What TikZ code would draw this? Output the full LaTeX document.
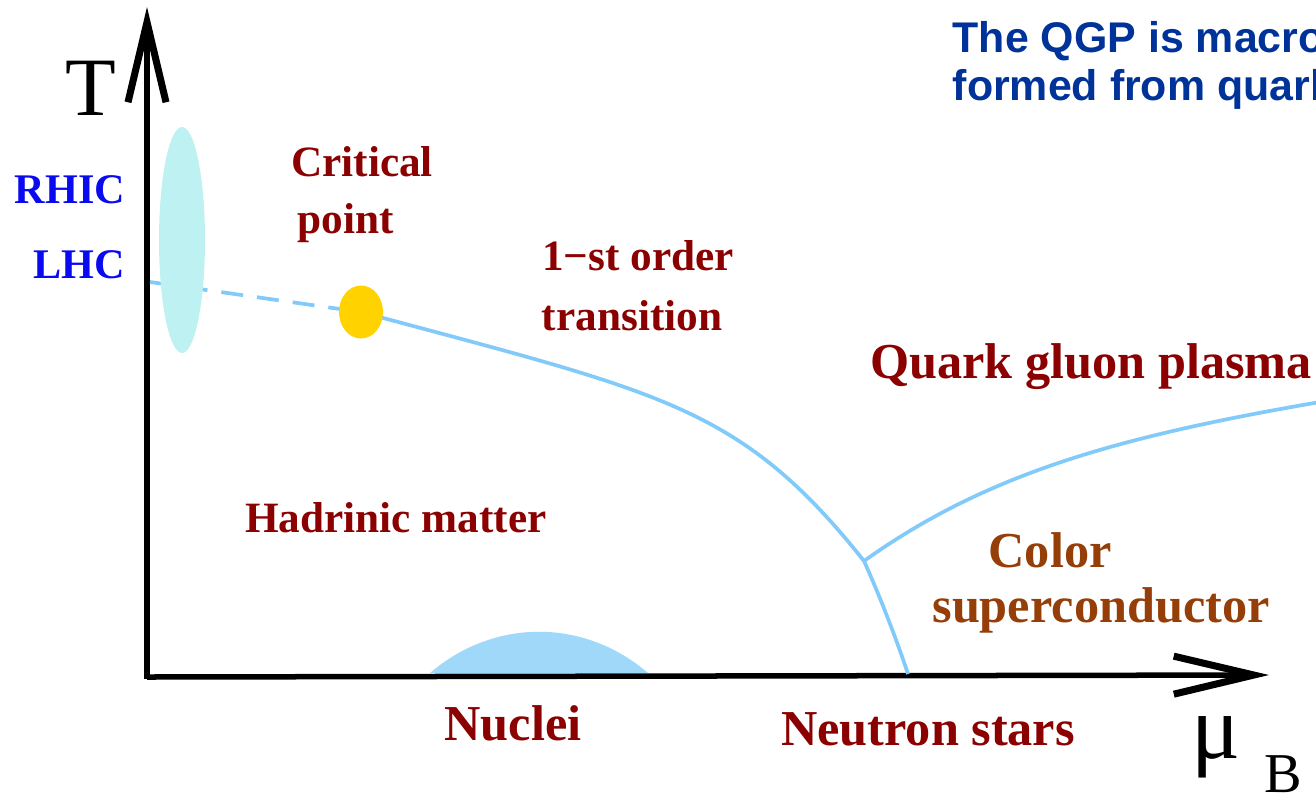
\documentclass[tikz,border=0pt]{standalone}
\usepackage{fontspec}
\setmainfont{Liberation Serif}
\newfontfamily\headfont{Liberation Sans}
\usetikzlibrary{arrows.meta}

\definecolor{phaseRed}{RGB}{139,0,0}
\definecolor{csBrown}{RGB}{150,62,8}
\definecolor{accBlue}{RGB}{10,10,240}
\definecolor{headBlue}{RGB}{0,51,153}
\definecolor{lineBlue}{RGB}{130,202,250}
\definecolor{accCyan}{RGB}{190,242,242}
\definecolor{critYellow}{RGB}{255,210,0}
\definecolor{nucBlue}{RGB}{160,216,250}

\begin{document}
\begin{tikzpicture}[x=0.01cm, y=-0.01cm,
  lbl/.style={font=\bfseries\fontsize{12.3}{14}\selectfont, text=phaseRed, anchor=base, inner sep=0pt},
  biglbl/.style={lbl, font=\bfseries\fontsize{14.3}{16}\selectfont},
  acclbl/.style={lbl, text=accBlue, font=\bfseries\fontsize{12}{14}\selectfont},
  headline/.style={font=\headfont\bfseries\fontsize{12.2}{14}\selectfont, text=headBlue, anchor=base west, inner sep=0pt},
  phaseline/.style={lineBlue, line width=0.037cm},
  axis/.style={line width=0.055cm, -{Straight Barb[length=0.8cm, width=0.38cm, line width=2pt]}}]
  \useasboundingbox (0,0) rectangle (1316,800);
  \clip (0,0) rectangle (1316,800);

  % 坐标轴
  \coordinate (O) at (147,677);
  \coordinate (Tend) at (147,7);
  \coordinate (Mend) at (1269,675);
  \fill[nucBlue] (430,673) .. controls (494,618) and (584,618) .. (648,673) -- cycle;
  \draw[axis] (147,679) -- (Tend);
  \draw[axis] (O) -- (Mend);
  \node[anchor=base, inner sep=0pt, font=\fontsize{23.6}{26}\selectfont] (T) at (91,115) {T};
  \node[anchor=base, inner sep=0pt, font=\fontsize{26}{28}\selectfont] (mu) at (1216,758) {μ};
  \node[anchor=base, inner sep=0pt, font=\fontsize{16}{18}\selectfont] (B) at (1283,792) {B};

  % 相变线
  \coordinate (crit) at (361,312);
  \coordinate (triple) at (864,561);
  \draw[phaseline, dash pattern=on 0.22cm off 0.14cm] (150,282) -- (crit);
  \fill[accCyan] (182,240) ellipse [x radius=23, y radius=113];
  \draw[phaseline] (crit) .. controls (661,393) and (740,405) .. (triple);
  \draw[phaseline] (triple) .. controls (878,592) and (895,635) .. (908,674);
  \draw[phaseline] (triple) .. controls (986,474) and (1116,437) .. (1320,402);
  \fill[critYellow] (crit) ellipse [x radius=22, y radius=26.5];

  % 标注
  \node[acclbl] (rhic) at (70,203) {RHIC};
  \node[acclbl] (lhc) at (79,278) {LHC};
  \node[lbl] (critA) at (362,176) {Critical};
  \node[lbl] (critB) at (346,233) {point};
  \node[lbl] (firstA) at (638,270) {1−st order};
  \node[lbl] (firstB) at (632,330) {transition};
  \node[biglbl] (qgp) at (1091,378) {Quark gluon plasma};
  \node[lbl] (had) at (396,532) {Hadrinic matter};
  \node[biglbl, text=csBrown] (colA) at (1050,567) {Color};
  \node[biglbl, text=csBrown] (colB) at (1101,622) {superconductor};
  \node[biglbl] (nuc) at (513,740) {Nuclei};
  \node[biglbl] (ns) at (928,745) {Neutron stars};

  % 右上角标题（被边缘截断）
  \node[headline] (headA) at (952,52) {The QGP is macroscopic};
  \node[headline] (headB) at (952,100) {formed from quarks};
\end{tikzpicture}
\end{document}
